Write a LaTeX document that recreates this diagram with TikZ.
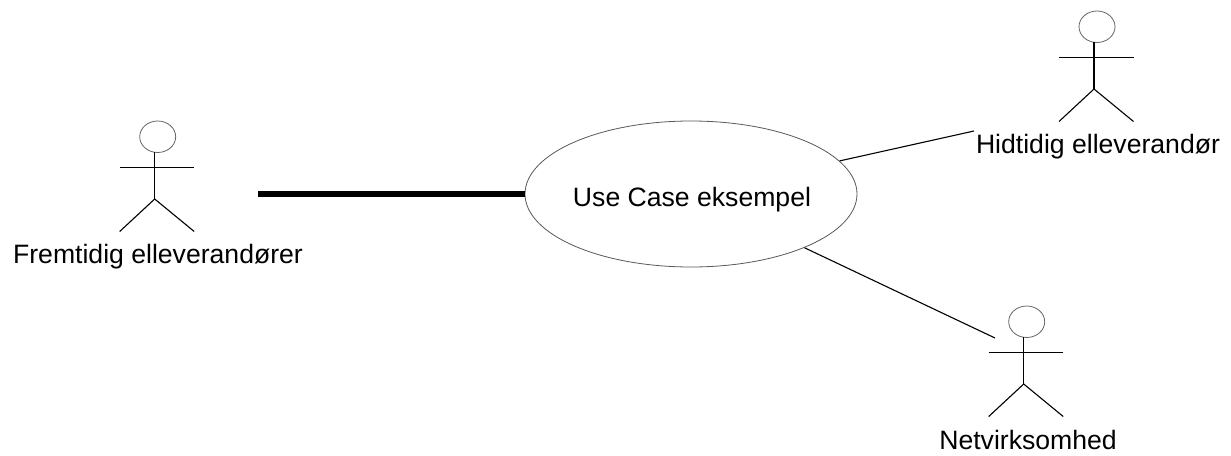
\documentclass[tikz,border=0pt]{standalone}
\usepackage{fontspec}
\setmainfont{Liberation Sans}
\usetikzlibrary{shapes.geometric}
\tikzset{
  x=1pt,y=-1pt,
  limb/.style={draw=black,line width=1.1pt},
  head/.style={ellipse,draw=black!60,line width=0.8pt,minimum width=36pt,minimum height=31.5pt,inner sep=0pt},
  usecase/.style={ellipse,draw=black!65,line width=0.8pt,minimum width=332pt,minimum height=146pt,inner sep=0pt},
  label/.style={anchor=base,inner sep=0pt,font=\fontsize{26.6}{30}\selectfont},
  thin link/.style={draw=black,line width=1.1pt},
  thick link/.style={draw=black,line width=6pt}
}
% #1 name, #2 body x, #3 top y of head
\newcommand{\actorfig}[3]{%
  \node[head] (#1head) at (#2+3,#3+15.75) {};
  \coordinate (#1neck) at (#2,#3+31.2);
  \coordinate (#1hip) at (#2,#3+78);
  \coordinate (#1arml) at (#2-35,#3+46.5);
  \coordinate (#1armr) at (#2+39.5,#3+46.5);
  \coordinate (#1footl) at (#2-35,#3+110.5);
  \coordinate (#1footr) at (#2+39.5,#3+110.5);
  \draw[limb] (#1neck) -- (#1hip);
  \draw[limb] (#1arml) -- (#1armr);
  \draw[limb] (#1footl) -- (#1hip) -- (#1footr);
}
\begin{document}
\begin{tikzpicture}
\useasboundingbox (0,0) rectangle (1231,455);
\fill[white] (0,0) rectangle (1231,455);
\node[usecase] (uc) at (691,194) {};
\node[label] (uctext) at (692,206) {Use Case eksempel};
\actorfig{a}{154.7}{121}
\actorfig{b}{1094}{11}
\actorfig{c}{1023.7}{306}
\node[label] (alabel) at (158,263) {Fremtidig elleverandører};
\node[label] (blabel) at (1098,153) {Hidtidig elleverandør};
\node[label] (clabel) at (1028,449) {Netvirksomhed};
\coordinate (aend) at (258,194);
\coordinate (bend) at (974,131);
\coordinate (cend) at (995,338);
\draw[thick link] (aend) -- (uc);
\draw[thin link] (uc) -- (bend);
\draw[thin link] (uc) -- (cend);
\end{tikzpicture}
\end{document}
